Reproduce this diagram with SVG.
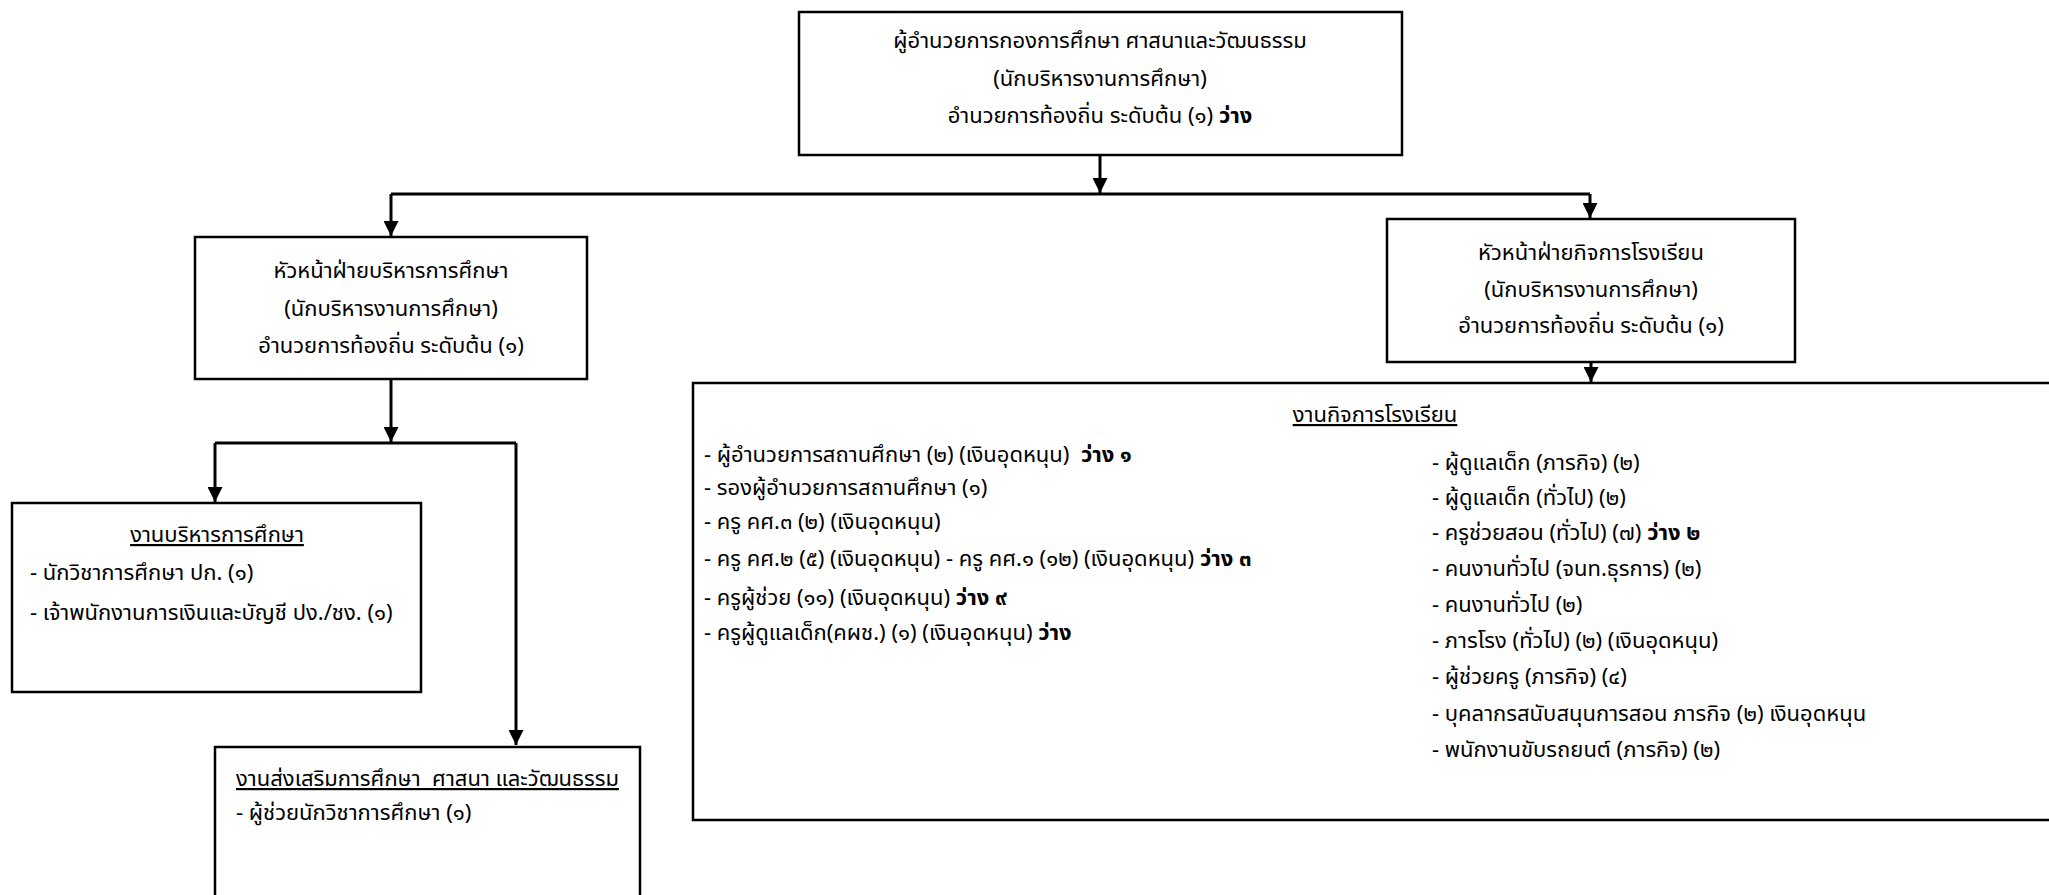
<svg xmlns="http://www.w3.org/2000/svg" width="2049" height="895" viewBox="0 0 2049 895">
<defs>
<marker id="arr" viewBox="0 0 10 10" refX="10" refY="5" markerWidth="5" markerHeight="5" markerUnits="strokeWidth" orient="auto">
<path d="M0,0 L10,5 L0,10 z" fill="#000"/>
</marker>
<style>
.box{fill:#fff;stroke:#000;stroke-width:2.5}
.t{font-family:'Noto Sans Thai','Noto Sans','DejaVu Sans',sans-serif;font-size:22px;fill:#000}
.c{text-anchor:middle}
.u{text-decoration:underline}
.b{font-weight:bold}
.ln{fill:none;stroke:#000;stroke-width:3}
</style>
</defs>
<rect width="2049" height="895" fill="#fff"/>
<g id="connectors">
<path class="ln" d="M1100,155 V193" marker-end="url(#arr)"/>
<path class="ln" d="M391,194 H1590"/>
<path class="ln" d="M391,194 V236" marker-end="url(#arr)"/>
<path class="ln" d="M1590,194 V218" marker-end="url(#arr)"/>
<path class="ln" d="M1591,362 V382" marker-end="url(#arr)"/>
<path class="ln" d="M391,379 V442" marker-end="url(#arr)"/>
<path class="ln" d="M215,443 H516"/>
<path class="ln" d="M215,443 V502" marker-end="url(#arr)"/>
<path class="ln" d="M516,443 V745" marker-end="url(#arr)"/>
</g>
<g id="director">
<rect class="box" x="799" y="12" width="603" height="143"/>
<text class="t c" x="1100" y="48">ผู้อำนวยการกองการศึกษา ศาสนาและวัฒนธรรม</text>
<text class="t c" x="1100" y="86">(นักบริหารงานการศึกษา)</text>
<text class="t c" x="1100" y="123">อำนวยการท้องถิ่น ระดับต้น (๑) <tspan class="b">ว่าง</tspan></text>
</g>
<g id="head-admin">
<rect class="box" x="195" y="237" width="392" height="142"/>
<text class="t c" x="391" y="278">หัวหน้าฝ่ายบริหารการศึกษา</text>
<text class="t c" x="391" y="316">(นักบริหารงานการศึกษา)</text>
<text class="t c" x="391" y="353">อำนวยการท้องถิ่น ระดับต้น (๑)</text>
</g>
<g id="head-school">
<rect class="box" x="1387" y="219" width="408" height="143"/>
<text class="t c" x="1591" y="260">หัวหน้าฝ่ายกิจการโรงเรียน</text>
<text class="t c" x="1591" y="297">(นักบริหารงานการศึกษา)</text>
<text class="t c" x="1591" y="333">อำนวยการท้องถิ่น ระดับต้น (๑)</text>
</g>
<g id="school-affairs">
<rect class="box" x="693" y="383" width="1400" height="437"/>
<text class="t c u" x="1375" y="422">งานกิจการโรงเรียน</text>
<text class="t" x="704" y="462" xml:space="preserve">- ผู้อำนวยการสถานศึกษา (๒) (เงินอุดหนุน)  <tspan class="b">ว่าง ๑</tspan></text>
<text class="t" x="704" y="495">- รองผู้อำนวยการสถานศึกษา (๑)</text>
<text class="t" x="704" y="529">- ครู คศ.๓ (๒) (เงินอุดหนุน)</text>
<text class="t" x="704" y="566">- ครู คศ.๒ (๕) (เงินอุดหนุน) - ครู คศ.๑ (๑๒) (เงินอุดหนุน) <tspan class="b">ว่าง ๓</tspan></text>
<text class="t" x="704" y="605">- ครูผู้ช่วย (๑๑) (เงินอุดหนุน) <tspan class="b">ว่าง ๙</tspan></text>
<text class="t" x="704" y="640">- ครูผู้ดูแลเด็ก(คผช.) (๑) (เงินอุดหนุน) <tspan class="b">ว่าง</tspan></text>
<text class="t" x="1432" y="470">- ผู้ดูแลเด็ก (ภารกิจ) (๒)</text>
<text class="t" x="1432" y="505">- ผู้ดูแลเด็ก (ทั่วไป) (๒)</text>
<text class="t" x="1432" y="540">- ครูช่วยสอน (ทั่วไป) (๗) <tspan class="b">ว่าง ๒</tspan></text>
<text class="t" x="1432" y="576">- คนงานทั่วไป (จนท.ธุรการ) (๒)</text>
<text class="t" x="1432" y="612">- คนงานทั่วไป (๒)</text>
<text class="t" x="1432" y="648">- ภารโรง (ทั่วไป) (๒) (เงินอุดหนุน)</text>
<text class="t" x="1432" y="684">- ผู้ช่วยครู (ภารกิจ) (๔)</text>
<text class="t" x="1432" y="721">- บุคลากรสนับสนุนการสอน ภารกิจ (๒) เงินอุดหนุน</text>
<text class="t" x="1432" y="757">- พนักงานขับรถยนต์ (ภารกิจ) (๒)</text>
</g>
<g id="admin-work">
<rect class="box" x="12" y="503" width="409" height="189"/>
<text class="t c u" x="217" y="542">งานบริหารการศึกษา</text>
<text class="t" x="30" y="580">- นักวิชาการศึกษา ปก. (๑)</text>
<text class="t" x="30" y="620">- เจ้าพนักงานการเงินและบัญชี ปง./ชง. (๑)</text>
</g>
<g id="promotion-work">
<rect class="box" x="215" y="747" width="425" height="200"/>
<text class="t u" x="236" y="786" xml:space="preserve">งานส่งเสริมการศึกษา  ศาสนา และวัฒนธรรม</text>
<text class="t" x="236" y="820">- ผู้ช่วยนักวิชาการศึกษา (๑)</text>
</g>
</svg>
